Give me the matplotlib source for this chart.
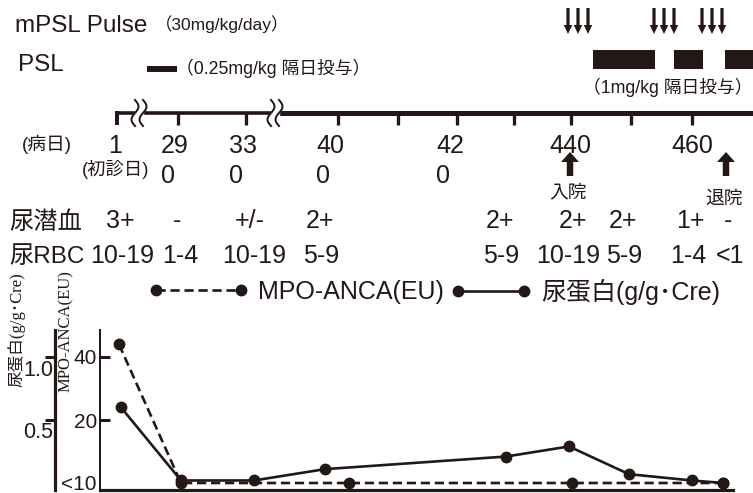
import matplotlib
matplotlib.use('Agg')
import matplotlib.pyplot as plt
import numpy as np

plt.rcParams['font.family'] = ['Liberation Sans', 'Noto Sans CJK JP']
INK = '#231815'

# ---------------- data ----------------
# horizontal positions are in "timeline units" shared by the timeline and the chart
day_labels = ['1', '29', '33', '40', '42', '440', '460']
day_label_pos = [115, 175, 243, 330, 450, 570, 692]
tick_pos = [178, 246, 338, 398, 457, 514, 571, 631, 692]
first_visit_labels = ['0', '0', '0', '0']
first_visit_pos = [168, 236, 323, 443]
break_pos = [139, 275]

occult_blood = ['3+', '-', '+/-', '2+', '2+', '2+', '2+', '1+', '-']
occult_pos = [120, 177, 250, 320, 500, 573, 623, 690, 728]
urine_rbc = ['10-19', '1-4', '10-19', '5-9', '5-9', '10-19', '5-9', '1-4', '<1']
rbc_pos = [122, 180, 254, 321, 501, 568, 624, 688, 730]

pulse_groups = [578, 664, 712]            # mPSL pulse, three consecutive days
psl_low_spans = [(147, 177)]              # 0.25 mg/kg
psl_high_spans = [(593, 655), (674, 703), (725, 760)]   # 1 mg/kg
admission_pos = 570
discharge_pos = 726

protein_pos = [121, 181, 254, 325, 506, 569, 629, 692, 723]
protein = [0.60, 0.02, 0.02, 0.11, 0.21, 0.29, 0.07, 0.02, 0.00]   # g/g.Cre
mpo_pos = [119, 181, 349, 572, 723]
mpo = [44, 0, 0, 0, 0]                    # EU ; 0 = "<10"

mpo_ticks = [20, 40]
protein_ticks = [0.5, 1.0]

# ---------------- figure ----------------
W, H = 753, 493
fig = plt.figure(figsize=(W / 100, H / 100), dpi=100)
ov = fig.add_axes([0, 0, 1, 1])
ov.set_xlim(0, W)
ov.set_ylim(H, 0)
ov.axis('off')

PT = 72 / 100  # points per pixel

# header rows
ov.text(15, 32, 'mPSL Pulse', fontsize=17.5, color=INK, va='baseline')
ov.text(155, 30, '（30mg/kg/day）', fontsize=12.5, color=INK, va='baseline')
ov.text(18, 71, 'PSL', fontsize=17.5, color=INK, va='baseline')

for x0, x1 in psl_low_spans:
    ov.barh(69, x1 - x0, left=x0, height=6, color=INK)
ov.text(176, 74, '（0.25mg/kg 隔日投与）', fontsize=12.8, color=INK, va='baseline')
for x0, x1 in psl_high_spans:
    ov.barh(59.5, x1 - x0, left=x0, height=19, color=INK)
ov.text(583, 93, '（1mg/kg 隔日投与）', fontsize=12.8, color=INK, va='baseline')

for g in pulse_groups:
    for d in (-10, 0, 10):
        ov.arrow(g + d, 8, 0, 26, width=3.2, head_width=8.5, head_length=9,
                 length_includes_head=True, color=INK, lw=0)

# timeline
ov.plot([117, break_pos[1]], [112.5, 112.5], color=INK, lw=3.6 * PT,
        solid_capstyle='butt')
ov.plot([break_pos[1], W], [112.5, 112.5], color=INK, lw=5 * PT,
        solid_capstyle='butt')
ov.plot([117, 117], [111, 125], color=INK, lw=4 * PT, solid_capstyle='butt')
for t in tick_pos:
    ov.plot([t, t], [112, 125], color=INK, lw=3.3 * PT, solid_capstyle='butt')
tt = np.linspace(0, 1, 60)
for b in break_pos:
    ov.fill_between([b - 4, b + 4], 108, 117, color='white', zorder=3)
    for dx in (-4, 4):
        ov.plot(b + dx + 3.5 * np.sin(2 * np.pi * tt), 100 + 26 * tt,
                color=INK, lw=2 * PT, zorder=4)

ov.text(47, 150, '(病日)', fontsize=13.5, color=INK, ha='center', va='baseline')
for p, s in zip(day_label_pos, day_labels):
    ov.text(p, 153, s, fontsize=18, color=INK, ha='center', va='baseline')
ov.text(116, 175, '(初診日)', fontsize=13.2, color=INK, ha='center', va='baseline')
for p, s in zip(first_visit_pos, first_visit_labels):
    ov.text(p, 183, s, fontsize=18, color=INK, ha='center', va='baseline')

for p, lab, base in ((admission_pos, '入院', 197), (discharge_pos, '退院', 204)):
    ov.arrow(p, 176, 0, -24, width=6.5, head_width=18, head_length=10,
             length_includes_head=True, color=INK, lw=0)
    ov.text(p - 2, base, lab, fontsize=13.5, color=INK, ha='center', va='baseline')

ov.text(9, 229, '尿潜血', fontsize=17.5, color=INK, va='baseline')
for p, s in zip(occult_pos, occult_blood):
    ov.text(p, 228, s, fontsize=18, color=INK, ha='center', va='baseline')
ov.text(9, 263, '尿RBC', fontsize=17.5, color=INK, va='baseline')
for p, s in zip(rbc_pos, urine_rbc):
    ov.text(p, 263, s, fontsize=18, color=INK, ha='center', va='baseline')

# axis titles
ov.text(17, 330, '尿蛋白(g/g･Cre)', rotation=90, fontsize=12, color=INK,
        ha='center', va='center', family=['Liberation Serif', 'Noto Sans CJK JP'])
ov.text(66, 331, 'MPO-ANCA(EU)', rotation=90, fontsize=12, color=INK,
        ha='center', va='center', family=['Liberation Serif'])

# ---------------- chart ----------------
ax = fig.add_axes([100 / W, 3 / H, 633 / W, 160 / H])
ax.patch.set_alpha(0)
ax.set_xlim(100, 733)
ax.set_ylim(-7 / 3.15, 153 / 3.15)
ax2 = ax.twinx()
ax2.set_ylim(-7 / 126, 153 / 126)

for s in ('top', 'right'):
    ax.spines[s].set_visible(False)
for s in ('top', 'right', 'bottom'):
    ax2.spines[s].set_visible(False)
ax.spines['left'].set_linewidth(2 * PT)
ax.spines['left'].set_color(INK)
ax.spines['bottom'].set_linewidth(3.2 * PT)
ax.spines['bottom'].set_color(INK)
ax.set_xticks([])

ax.set_yticks(mpo_ticks)
ax.set_yticklabels([str(v) for v in mpo_ticks])
ax.tick_params(axis='y', direction='in', length=10 * PT, width=3 * PT, color=INK,
               pad=3 * PT, labelsize=15, labelcolor=INK)
ax.annotate('<10', xy=(0, 0), xycoords=('axes fraction', 'data'),
            xytext=(-3, -1), textcoords='offset pixels', ha='right', va='center',
            fontsize=15, color=INK)

ax2.spines['left'].set_visible(True)
ax2.spines['left'].set_position(('outward', 45 * PT))
ax2.spines['left'].set_linewidth(3.2 * PT)
ax2.spines['left'].set_color(INK)
ax2.yaxis.tick_left()
ax2.set_yticks(protein_ticks)
ax2.tick_params(axis='y', length=10 * PT, width=3 * PT, color=INK, labelleft=False)
for v in protein_ticks:
    ax2.annotate(f'{v:.1f}', xy=(0, v), xycoords=('axes fraction', 'data'),
                 xytext=(-47, -13), textcoords='offset pixels', ha='right',
                 va='center', fontsize=15.5, color=INK)

l_mpo, = ax.plot(mpo_pos, mpo, color=INK, lw=1.9, dashes=(3.5, 1.8), marker='o',
                 ms=7.5, clip_on=False)
l_pro, = ax2.plot(protein_pos, protein, color=INK, lw=1.9, marker='o', ms=7.5,
                  clip_on=False)

# legend: two entries with differing handle lengths, as in the original
common = dict(numpoints=2, frameon=False, fontsize=18, handletextpad=0.38,
              loc='center left', borderpad=0, borderaxespad=0, labelcolor=INK)
fig.legend([l_mpo], ['MPO-ANCA(EU)'], handlelength=4.0,
           bbox_to_anchor=(148.5 / W, 1 - 292 / H), **common)
fig.legend([l_pro], ['尿蛋白(g/g･Cre)'], handlelength=3.24,
           bbox_to_anchor=(450.5 / W, 1 - 292 / H), **common)

fig.savefig('out.png', dpi=100)
